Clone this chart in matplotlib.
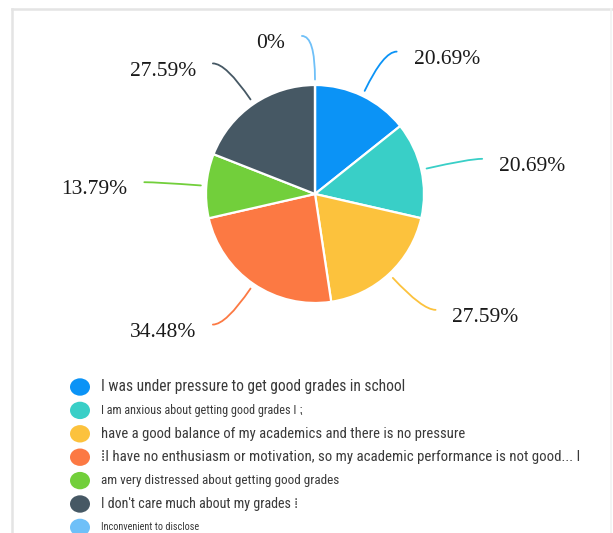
import numpy as np
import matplotlib
matplotlib.use("Agg")
import matplotlib.pyplot as plt
from matplotlib.path import Path
from matplotlib.patches import PathPatch, Circle
from matplotlib.lines import Line2D

# Survey answers (share of respondents, %)
categories = [
    "I was under pressure to get good grades in school",
    "I am anxious about getting good grades I \u204f",
    "have a good balance of my academics and there is no pressure",
    "\u205eI have no enthusiasm or motivation, so my academic performance is not good... I",
    "am very distressed about getting good grades",
    "I don't care much about my grades \u205e",
    "Inconvenient to disclose",
]
values = [20.69, 20.69, 27.59, 34.48, 13.79, 27.59, 0.0]
value_labels = ["20.69%", "20.69%", "27.59%", "34.48%", "13.79%", "27.59%", "0%"]

colors = ["#0b93f6", "#39cfc7", "#fcc23d", "#fc7943", "#72cf3b", "#465864", "#6fc0f8"]
legend_sizes = [11.2, 8.7, 10.5, 10.7, 9.5, 10.1, 7.4]
legend_family = ["Liberation Sans Narrow", "Roboto Condensed", "DejaVu Sans"]

W, H = 613, 533
DPI = 100
fig = plt.figure(figsize=(W / DPI, H / DPI), dpi=DPI)
fig.patch.set_facecolor("white")

# pie axes: one data unit = pie radius in pixels
CX, CY, R = 315, 194, 109
ax = fig.add_axes([0, 0, 1, 1])

wedges, _ = ax.pie(
    values, colors=colors, startangle=90, counterclock=False, radius=1.0,
    center=(0, 0), wedgeprops=dict(edgecolor="white", linewidth=1.6),
    normalize=True, frame=False,
)
ax.set_xlim(-CX / R, (W - CX) / R)
ax.set_ylim(-(H - CY) / R, CY / R)
ax.set_aspect("auto")
ax.axis("off")

# leader lines + value labels
r_start, r_knee, horiz, gap, drop = 1.05, 1.45, 0.12, 0.155, 0.07
for w, lab, col in zip(wedges, value_labels, colors):
    mid = np.deg2rad((w.theta1 + w.theta2) / 2.0)
    c, s = np.cos(mid), np.sin(mid)
    side = 1 if c > 1e-6 else -1
    p0 = (c * r_start, s * r_start)
    p1 = (c * r_knee, s * r_knee)
    p2 = (p1[0] + side * horiz, p1[1])
    path = Path([p0, p1, p2], [Path.MOVETO, Path.CURVE3, Path.CURVE3])
    ax.add_patch(PathPatch(path, facecolor="none", edgecolor=col, lw=1.3,
                           capstyle="round"))
    ax.text(p2[0] + side * gap, p2[1] - drop, lab,
            ha="left" if side > 0 else "right", va="center", fontsize=15.5,
            family="Liberation Serif", color="#1a1a1a")

# legend
lx_circle, lx_text, ly0, ldy = 80, 101, 387, 23.4
for i, (cat, col, fs) in enumerate(zip(categories, colors, legend_sizes)):
    y = ly0 + i * ldy
    fig.patches.append(Circle((lx_circle / W, 1 - y / H), 10 / W,
                              transform=fig.transFigure, facecolor=col,
                              edgecolor="none"))
    fig.text(lx_text / W, 1 - y / H, cat, ha="left", va="center", fontsize=fs,
             family=legend_family, fontstretch="condensed", color="#3a3a3a")

# panel frame
frame_col = "#e4e4e4"
fig.add_artist(Line2D([12 / W, 1], [1 - 9 / H, 1 - 9 / H], transform=fig.transFigure,
                      color=frame_col, lw=1.8))
fig.add_artist(Line2D([12 / W, 12 / W], [0, 1 - 9 / H], transform=fig.transFigure,
                      color=frame_col, lw=1.8))
fig.add_artist(Line2D([611 / W, 611 / W], [0, 1 - 9 / H], transform=fig.transFigure,
                      color="#f2f2f2", lw=1.2))

fig.savefig("out.png", dpi=DPI, facecolor="white")
